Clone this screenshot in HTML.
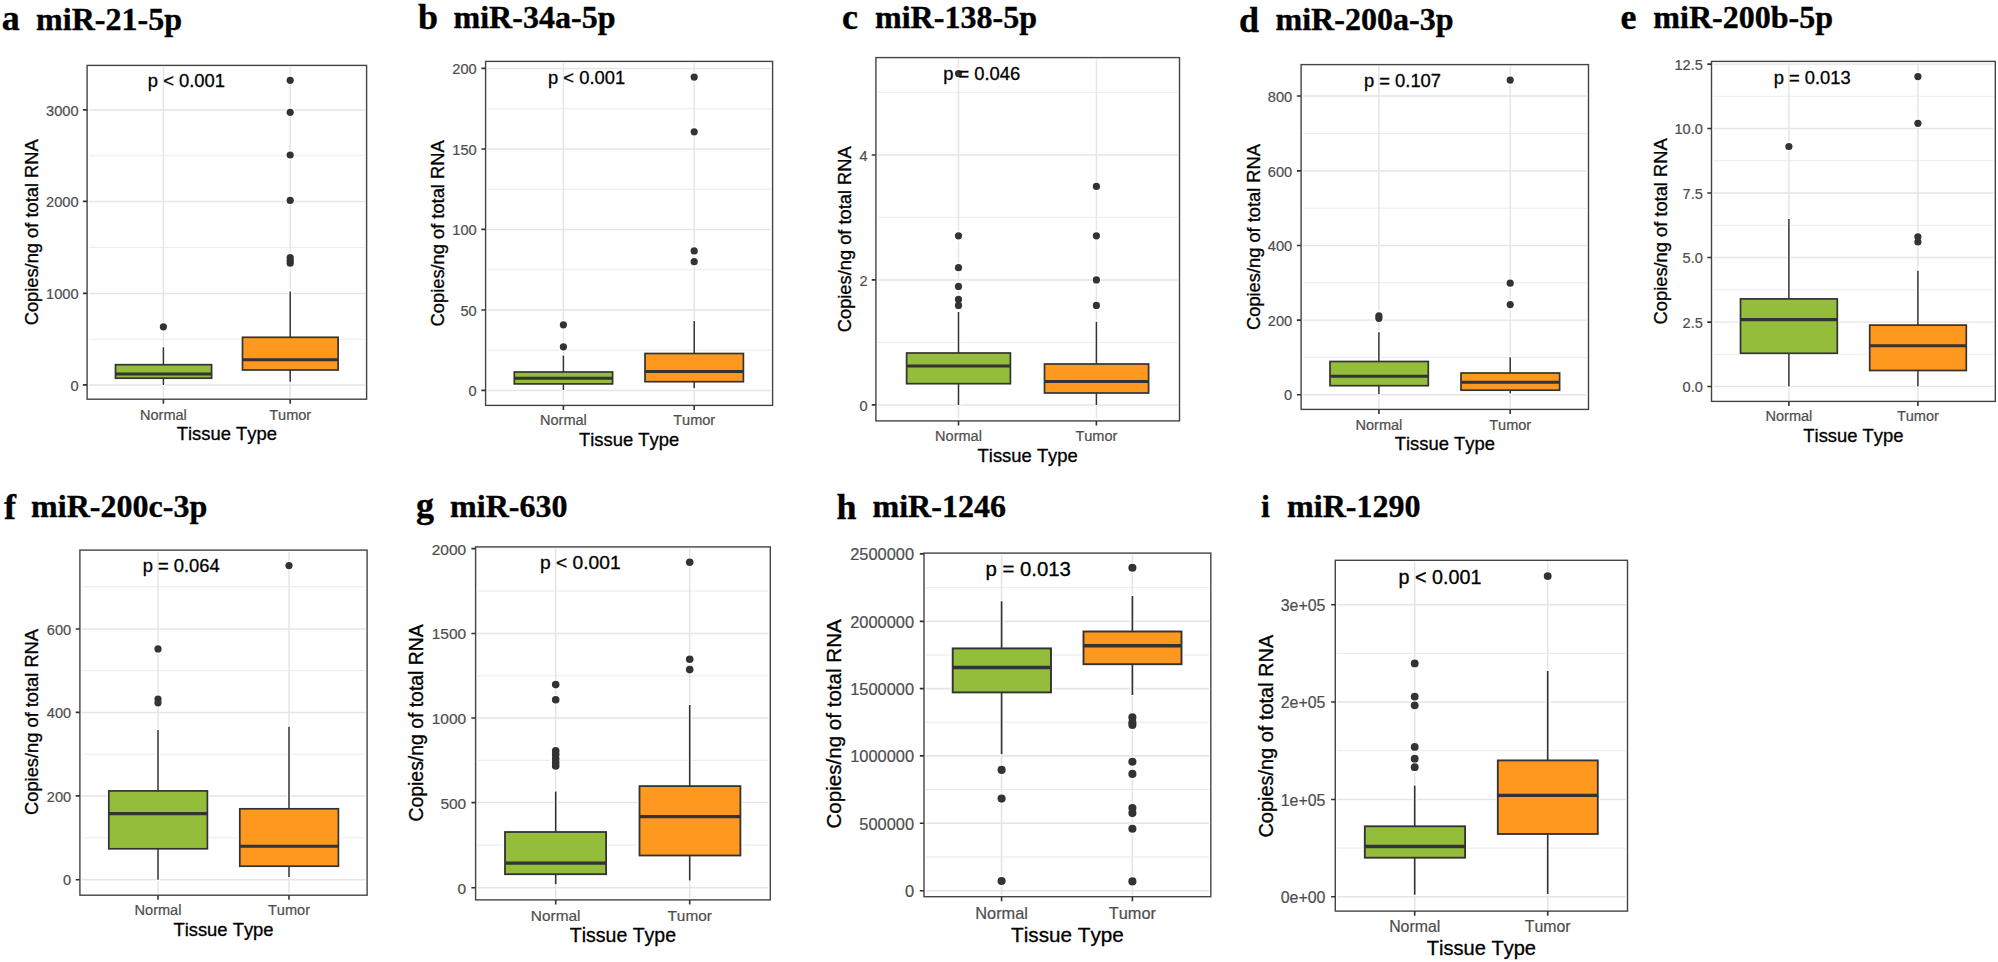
<!DOCTYPE html>
<html lang="en"><head><meta charset="utf-8"><title>miRNA copies per ng of total RNA in normal and tumor tissue</title>
<style>html,body{margin:0;padding:0;background:#fff}svg{display:block}text{font-kerning:none}.h{font-family:"Liberation Serif","Times New Roman",serif;font-weight:bold;fill:#000;stroke:#000;stroke-width:.35px}.s{font-family:"Liberation Sans",Arial,sans-serif;fill:#000;stroke:#000;stroke-width:.3px}.t{font-family:"Liberation Sans",Arial,sans-serif;fill:#4D4D4D;stroke:#4D4D4D;stroke-width:.2px}</style></head><body>
<svg width="1998" height="962" viewBox="0 0 1998 962">
<rect width="1998" height="962" fill="#fff"/>
<g>
<text class="h" x="1.7" y="30.3" font-size="36">a</text>
<text class="h" x="36.1" y="30" font-size="32.05">miR-21-5p</text>
<path d="M87.1 339.2H366.6M87.1 247.4H366.6M87.1 155.7H366.6" stroke="#E5E5E5" stroke-width="0.75" fill="none"/>
<path d="M87.1 384.9H366.6M87.1 293.4H366.6M87.1 201.4H366.6M87.1 109.9H366.6M163.4 65.4V399.2M290.2 65.4V399.2" stroke="#E5E5E5" stroke-width="1.45" fill="none"/>
<g fill="#fff"><circle cx="163.4" cy="326.8" r="4.8"/><circle cx="290.2" cy="80.3" r="4.8"/><circle cx="290.2" cy="112.3" r="4.8"/><circle cx="290.2" cy="155" r="4.8"/><circle cx="290.2" cy="200.4" r="4.8"/><circle cx="290.2" cy="257.6" r="4.8"/><circle cx="290.2" cy="260.4" r="4.8"/><circle cx="290.2" cy="263.2" r="4.8"/><rect x="113.5" y="362.7" width="100.1" height="17.5"/><rect x="161.4" y="346.1" width="4" height="40.1"/><rect x="240.5" y="335.3" width="99.6" height="36.7"/><rect x="288.2" y="290.4" width="4" height="92.5"/></g>
<path d="M163.4 347.3V364.7M163.4 378.2V385" stroke="#333333" stroke-width="1.5" fill="none"/>
<rect x="115.5" y="364.7" width="96.1" height="13.5" fill="#93BD3B" stroke="#333333" stroke-width="1.7"/>
<path d="M115.5 374H211.6" stroke="#333333" stroke-width="3.1" fill="none"/>
<path d="M290.2 291.6V337.3M290.2 370V381.7" stroke="#333333" stroke-width="1.5" fill="none"/>
<rect x="242.5" y="337.3" width="95.6" height="32.7" fill="#FF981F" stroke="#333333" stroke-width="1.7"/>
<path d="M242.5 359.7H338.1" stroke="#333333" stroke-width="3.1" fill="none"/>
<g fill="#333333"><circle cx="163.4" cy="326.8" r="3.6"/><circle cx="290.2" cy="80.3" r="3.6"/><circle cx="290.2" cy="112.3" r="3.6"/><circle cx="290.2" cy="155" r="3.6"/><circle cx="290.2" cy="200.4" r="3.6"/><circle cx="290.2" cy="257.6" r="3.6"/><circle cx="290.2" cy="260.4" r="3.6"/><circle cx="290.2" cy="263.2" r="3.6"/></g>
<rect x="87.1" y="65.4" width="279.5" height="333.8" fill="none" stroke="#fff" stroke-width="3.6"/>
<rect x="87.1" y="65.4" width="279.5" height="333.8" fill="none" stroke="#444" stroke-width="1.4"/>
<path d="M82.9 384.9H87.1M82.9 293.4H87.1M82.9 201.4H87.1M82.9 109.9H87.1M163.4 399.2V403.8M290.2 399.2V403.8" stroke="#333333" stroke-width="1.6" fill="none"/>
<text class="t" x="78.5" y="390.56" font-size="14.6" text-anchor="end">0</text>
<text class="t" x="78.5" y="299.06" font-size="14.6" text-anchor="end">1000</text>
<text class="t" x="78.5" y="207.06" font-size="14.6" text-anchor="end">2000</text>
<text class="t" x="78.5" y="115.56" font-size="14.6" text-anchor="end">3000</text>
<text class="t" x="163.4" y="419.6" font-size="14.55" text-anchor="middle">Normal</text>
<text class="t" x="290.2" y="419.6" font-size="14.55" text-anchor="middle">Tumor</text>
<text class="s" x="226.85" y="440" font-size="18.4" text-anchor="middle">Tissue Type</text>
<text class="s" transform="translate(37.7 232.3) rotate(-90)" font-size="18.3" text-anchor="middle">Copies/ng of total RNA</text>
<text class="s" x="186.4" y="86.6" font-size="18.37" text-anchor="middle">p &lt; 0.001</text>
</g>
<g>
<text class="h" x="417.9" y="29.4" font-size="36">b</text>
<text class="h" x="453.5" y="28.2" font-size="32.05">miR-34a-5p</text>
<path d="M485.6 350.2H772.6M485.6 269.8H772.6M485.6 189.2H772.6M485.6 108.8H772.6" stroke="#E5E5E5" stroke-width="0.75" fill="none"/>
<path d="M485.6 390.4H772.6M485.6 310H772.6M485.6 229.4H772.6M485.6 149H772.6M485.6 68.4H772.6M563.4 61.4V405.4M694.2 61.4V405.4" stroke="#E5E5E5" stroke-width="1.45" fill="none"/>
<g fill="#fff"><circle cx="563.4" cy="324.8" r="4.8"/><circle cx="563.4" cy="346.8" r="4.8"/><circle cx="694.2" cy="77.1" r="4.8"/><circle cx="694.2" cy="131.8" r="4.8"/><circle cx="694.2" cy="250.9" r="4.8"/><circle cx="694.2" cy="261.7" r="4.8"/><rect x="512.3" y="370" width="102.3" height="15.9"/><rect x="561.4" y="354.3" width="4" height="36.9"/><rect x="643" y="351.5" width="102.4" height="32.2"/><rect x="692.2" y="319.8" width="4" height="69.6"/></g>
<path d="M563.4 355.5V372M563.4 383.9V390" stroke="#333333" stroke-width="1.5" fill="none"/>
<rect x="514.3" y="372" width="98.3" height="11.9" fill="#93BD3B" stroke="#333333" stroke-width="1.7"/>
<path d="M514.3 378.2H612.6" stroke="#333333" stroke-width="3.1" fill="none"/>
<path d="M694.2 321V353.5M694.2 381.7V388.2" stroke="#333333" stroke-width="1.5" fill="none"/>
<rect x="645" y="353.5" width="98.4" height="28.2" fill="#FF981F" stroke="#333333" stroke-width="1.7"/>
<path d="M645 371.5H743.4" stroke="#333333" stroke-width="3.1" fill="none"/>
<g fill="#333333"><circle cx="563.4" cy="324.8" r="3.6"/><circle cx="563.4" cy="346.8" r="3.6"/><circle cx="694.2" cy="77.1" r="3.6"/><circle cx="694.2" cy="131.8" r="3.6"/><circle cx="694.2" cy="250.9" r="3.6"/><circle cx="694.2" cy="261.7" r="3.6"/></g>
<rect x="485.6" y="61.4" width="287" height="344" fill="none" stroke="#fff" stroke-width="3.6"/>
<rect x="485.6" y="61.4" width="287" height="344" fill="none" stroke="#444" stroke-width="1.4"/>
<path d="M481.4 390.4H485.6M481.4 310H485.6M481.4 229.4H485.6M481.4 149H485.6M481.4 68.4H485.6M563.4 405.4V410M694.2 405.4V410" stroke="#333333" stroke-width="1.6" fill="none"/>
<text class="t" x="476.7" y="396.06" font-size="14.6" text-anchor="end">0</text>
<text class="t" x="476.7" y="315.66" font-size="14.6" text-anchor="end">50</text>
<text class="t" x="476.7" y="235.06" font-size="14.6" text-anchor="end">100</text>
<text class="t" x="476.7" y="154.66" font-size="14.6" text-anchor="end">150</text>
<text class="t" x="476.7" y="74.06" font-size="14.6" text-anchor="end">200</text>
<text class="t" x="563.4" y="425.1" font-size="14.55" text-anchor="middle">Normal</text>
<text class="t" x="694.2" y="425.1" font-size="14.55" text-anchor="middle">Tumor</text>
<text class="s" x="629.1" y="445.8" font-size="18.4" text-anchor="middle">Tissue Type</text>
<text class="s" transform="translate(444 233.4) rotate(-90)" font-size="18.3" text-anchor="middle">Copies/ng of total RNA</text>
<text class="s" x="586.6" y="84" font-size="18.37" text-anchor="middle">p &lt; 0.001</text>
</g>
<g>
<text class="h" x="842.1" y="29" font-size="36">c</text>
<text class="h" x="875" y="28" font-size="32.05">miR-138-5p</text>
<path d="M875.9 342.5H1179.5M875.9 217.4H1179.5M875.9 92.4H1179.5" stroke="#E5E5E5" stroke-width="0.75" fill="none"/>
<path d="M875.9 404.9H1179.5M875.9 279.9H1179.5M875.9 155H1179.5M958.5 57.6V420.9M1096.4 57.6V420.9" stroke="#E5E5E5" stroke-width="1.45" fill="none"/>
<g fill="#fff"><circle cx="958.5" cy="73.6" r="4.8"/><circle cx="958.5" cy="235.8" r="4.8"/><circle cx="958.5" cy="267.7" r="4.8"/><circle cx="958.5" cy="286.4" r="4.8"/><circle cx="958.5" cy="299.4" r="4.8"/><circle cx="958.5" cy="305.4" r="4.8"/><circle cx="1096.4" cy="186.4" r="4.8"/><circle cx="1096.4" cy="235.8" r="4.8"/><circle cx="1096.4" cy="279.9" r="4.8"/><circle cx="1096.4" cy="305.4" r="4.8"/><rect x="904.6" y="351" width="107.8" height="34.7"/><rect x="956.5" y="310.7" width="4" height="95.4"/><rect x="1042.5" y="362" width="108.1" height="33"/><rect x="1094.4" y="320.6" width="4" height="85.5"/></g>
<path d="M958.5 311.9V353M958.5 383.7V404.9" stroke="#333333" stroke-width="1.5" fill="none"/>
<rect x="906.6" y="353" width="103.8" height="30.7" fill="#93BD3B" stroke="#333333" stroke-width="1.7"/>
<path d="M906.6 366H1010.4" stroke="#333333" stroke-width="3.1" fill="none"/>
<path d="M1096.4 321.8V364M1096.4 393V404.9" stroke="#333333" stroke-width="1.5" fill="none"/>
<rect x="1044.5" y="364" width="104.1" height="29" fill="#FF981F" stroke="#333333" stroke-width="1.7"/>
<path d="M1044.5 381.5H1148.6" stroke="#333333" stroke-width="3.1" fill="none"/>
<g fill="#333333"><circle cx="958.5" cy="73.6" r="3.6"/><circle cx="958.5" cy="235.8" r="3.6"/><circle cx="958.5" cy="267.7" r="3.6"/><circle cx="958.5" cy="286.4" r="3.6"/><circle cx="958.5" cy="299.4" r="3.6"/><circle cx="958.5" cy="305.4" r="3.6"/><circle cx="1096.4" cy="186.4" r="3.6"/><circle cx="1096.4" cy="235.8" r="3.6"/><circle cx="1096.4" cy="279.9" r="3.6"/><circle cx="1096.4" cy="305.4" r="3.6"/></g>
<rect x="875.9" y="57.6" width="303.6" height="363.3" fill="none" stroke="#fff" stroke-width="3.6"/>
<rect x="875.9" y="57.6" width="303.6" height="363.3" fill="none" stroke="#444" stroke-width="1.4"/>
<path d="M871.7 404.9H875.9M871.7 279.9H875.9M871.7 155H875.9M958.5 420.9V425.5M1096.4 420.9V425.5" stroke="#333333" stroke-width="1.6" fill="none"/>
<text class="t" x="867.5" y="410.56" font-size="14.6" text-anchor="end">0</text>
<text class="t" x="867.5" y="285.56" font-size="14.6" text-anchor="end">2</text>
<text class="t" x="867.5" y="160.66" font-size="14.6" text-anchor="end">4</text>
<text class="t" x="958.5" y="441.1" font-size="14.55" text-anchor="middle">Normal</text>
<text class="t" x="1096.4" y="441.1" font-size="14.55" text-anchor="middle">Tumor</text>
<text class="s" x="1027.7" y="461.6" font-size="18.4" text-anchor="middle">Tissue Type</text>
<text class="s" transform="translate(850.7 239.25) rotate(-90)" font-size="18.3" text-anchor="middle">Copies/ng of total RNA</text>
<text class="s" x="981.7" y="79.9" font-size="18.37" text-anchor="middle">p = 0.046</text>
</g>
<g>
<text class="h" x="1239.1" y="31.9" font-size="36">d</text>
<text class="h" x="1275.5" y="30.4" font-size="32.05">miR-200a-3p</text>
<path d="M1301.1 357.4H1588.5M1301.1 282.8H1588.5M1301.1 208.2H1588.5M1301.1 133.5H1588.5" stroke="#E5E5E5" stroke-width="0.75" fill="none"/>
<path d="M1301.1 394.7H1588.5M1301.1 320.1H1588.5M1301.1 245.5H1588.5M1301.1 170.9H1588.5M1301.1 96H1588.5M1378.9 64.6V409.4M1510.2 64.6V409.4" stroke="#E5E5E5" stroke-width="1.45" fill="none"/>
<g fill="#fff"><circle cx="1378.9" cy="315.8" r="4.8"/><circle cx="1378.9" cy="318.3" r="4.8"/><circle cx="1510.2" cy="80.1" r="4.8"/><circle cx="1510.2" cy="283.2" r="4.8"/><circle cx="1510.2" cy="304.6" r="4.8"/><rect x="1328" y="359.5" width="102.3" height="28.2"/><rect x="1376.9" y="331.1" width="4" height="64.3"/><rect x="1459" y="371" width="102.6" height="21.2"/><rect x="1508.2" y="356.1" width="4" height="38.5"/></g>
<path d="M1378.9 332.3V361.5M1378.9 385.7V394.2" stroke="#333333" stroke-width="1.5" fill="none"/>
<rect x="1330" y="361.5" width="98.3" height="24.2" fill="#93BD3B" stroke="#333333" stroke-width="1.7"/>
<path d="M1330 376.2H1428.3" stroke="#333333" stroke-width="3.1" fill="none"/>
<path d="M1510.2 357.3V373M1510.2 390.2V393.4" stroke="#333333" stroke-width="1.5" fill="none"/>
<rect x="1461" y="373" width="98.6" height="17.2" fill="#FF981F" stroke="#333333" stroke-width="1.7"/>
<path d="M1461 382.2H1559.6" stroke="#333333" stroke-width="3.1" fill="none"/>
<g fill="#333333"><circle cx="1378.9" cy="315.8" r="3.6"/><circle cx="1378.9" cy="318.3" r="3.6"/><circle cx="1510.2" cy="80.1" r="3.6"/><circle cx="1510.2" cy="283.2" r="3.6"/><circle cx="1510.2" cy="304.6" r="3.6"/></g>
<rect x="1301.1" y="64.6" width="287.4" height="344.8" fill="none" stroke="#fff" stroke-width="3.6"/>
<rect x="1301.1" y="64.6" width="287.4" height="344.8" fill="none" stroke="#444" stroke-width="1.4"/>
<path d="M1296.9 394.7H1301.1M1296.9 320.1H1301.1M1296.9 245.5H1301.1M1296.9 170.9H1301.1M1296.9 96H1301.1M1378.9 409.4V414M1510.2 409.4V414" stroke="#333333" stroke-width="1.6" fill="none"/>
<text class="t" x="1292.2" y="400.36" font-size="14.6" text-anchor="end">0</text>
<text class="t" x="1292.2" y="325.76" font-size="14.6" text-anchor="end">200</text>
<text class="t" x="1292.2" y="251.16" font-size="14.6" text-anchor="end">400</text>
<text class="t" x="1292.2" y="176.56" font-size="14.6" text-anchor="end">600</text>
<text class="t" x="1292.2" y="101.66" font-size="14.6" text-anchor="end">800</text>
<text class="t" x="1378.9" y="429.6" font-size="14.55" text-anchor="middle">Normal</text>
<text class="t" x="1510.2" y="429.6" font-size="14.55" text-anchor="middle">Tumor</text>
<text class="s" x="1444.8" y="450.3" font-size="18.4" text-anchor="middle">Tissue Type</text>
<text class="s" transform="translate(1259.5 237) rotate(-90)" font-size="18.3" text-anchor="middle">Copies/ng of total RNA</text>
<text class="s" x="1402.5" y="86.6" font-size="18.37" text-anchor="middle">p = 0.107</text>
</g>
<g>
<text class="h" x="1620.4" y="28.9" font-size="36">e</text>
<text class="h" x="1653.3" y="28.4" font-size="32.05">miR-200b-5p</text>
<path d="M1711.5 354.3H1995.3M1711.5 289.8H1995.3M1711.5 225.3H1995.3M1711.5 160.7H1995.3M1711.5 96.3H1995.3" stroke="#E5E5E5" stroke-width="0.75" fill="none"/>
<path d="M1711.5 386.5H1995.3M1711.5 322.1H1995.3M1711.5 257.5H1995.3M1711.5 193H1995.3M1711.5 128.5H1995.3M1711.5 64.1H1995.3M1788.9 61.4V401.4M1917.9 61.4V401.4" stroke="#E5E5E5" stroke-width="1.45" fill="none"/>
<g fill="#fff"><circle cx="1788.9" cy="146.5" r="4.8"/><circle cx="1917.9" cy="76.6" r="4.8"/><circle cx="1917.9" cy="123.3" r="4.8"/><circle cx="1917.9" cy="236.8" r="4.8"/><circle cx="1917.9" cy="242" r="4.8"/><rect x="1738.5" y="296.9" width="100.8" height="58.4"/><rect x="1786.9" y="217.9" width="4" height="169.8"/><rect x="1867.7" y="323.1" width="100.6" height="49.4"/><rect x="1915.9" y="269.5" width="4" height="118.2"/></g>
<path d="M1788.9 219.1V298.9M1788.9 353.3V386.5" stroke="#333333" stroke-width="1.5" fill="none"/>
<rect x="1740.5" y="298.9" width="96.8" height="54.4" fill="#93BD3B" stroke="#333333" stroke-width="1.7"/>
<path d="M1740.5 319.6H1837.3" stroke="#333333" stroke-width="3.1" fill="none"/>
<path d="M1917.9 270.7V325.1M1917.9 370.5V386.5" stroke="#333333" stroke-width="1.5" fill="none"/>
<rect x="1869.7" y="325.1" width="96.6" height="45.4" fill="#FF981F" stroke="#333333" stroke-width="1.7"/>
<path d="M1869.7 345.8H1966.3" stroke="#333333" stroke-width="3.1" fill="none"/>
<g fill="#333333"><circle cx="1788.9" cy="146.5" r="3.6"/><circle cx="1917.9" cy="76.6" r="3.6"/><circle cx="1917.9" cy="123.3" r="3.6"/><circle cx="1917.9" cy="236.8" r="3.6"/><circle cx="1917.9" cy="242" r="3.6"/></g>
<rect x="1711.5" y="61.4" width="283.8" height="340" fill="none" stroke="#fff" stroke-width="3.6"/>
<rect x="1711.5" y="61.4" width="283.8" height="340" fill="none" stroke="#444" stroke-width="1.4"/>
<path d="M1707.3 386.5H1711.5M1707.3 322.1H1711.5M1707.3 257.5H1711.5M1707.3 193H1711.5M1707.3 128.5H1711.5M1707.3 64.1H1711.5M1788.9 401.4V406M1917.9 401.4V406" stroke="#333333" stroke-width="1.6" fill="none"/>
<text class="t" x="1702.9" y="392.16" font-size="14.6" text-anchor="end">0.0</text>
<text class="t" x="1702.9" y="327.76" font-size="14.6" text-anchor="end">2.5</text>
<text class="t" x="1702.9" y="263.16" font-size="14.6" text-anchor="end">5.0</text>
<text class="t" x="1702.9" y="198.66" font-size="14.6" text-anchor="end">7.5</text>
<text class="t" x="1702.9" y="134.16" font-size="14.6" text-anchor="end">10.0</text>
<text class="t" x="1702.9" y="69.76" font-size="14.6" text-anchor="end">12.5</text>
<text class="t" x="1788.9" y="421.4" font-size="14.55" text-anchor="middle">Normal</text>
<text class="t" x="1917.9" y="421.4" font-size="14.55" text-anchor="middle">Tumor</text>
<text class="s" x="1853.4" y="442.1" font-size="18.4" text-anchor="middle">Tissue Type</text>
<text class="s" transform="translate(1666.5 231.4) rotate(-90)" font-size="18.3" text-anchor="middle">Copies/ng of total RNA</text>
<text class="s" x="1812.2" y="83.6" font-size="18.37" text-anchor="middle">p = 0.013</text>
</g>
<g>
<text class="h" x="3.9" y="519.1" font-size="36">f</text>
<text class="h" x="31.1" y="517.4" font-size="32.05">miR-200c-3p</text>
<path d="M79.9 837.8H367.1M79.9 754.2H367.1M79.9 670.6H367.1M79.9 586.8H367.1" stroke="#E5E5E5" stroke-width="0.75" fill="none"/>
<path d="M79.9 879.7H367.1M79.9 795.9H367.1M79.9 712.4H367.1M79.9 629H367.1M158 550.1V895.2M289 550.1V895.2" stroke="#E5E5E5" stroke-width="1.45" fill="none"/>
<g fill="#fff"><circle cx="158" cy="648.9" r="4.8"/><circle cx="158" cy="699.1" r="4.8"/><circle cx="158" cy="702.8" r="4.8"/><circle cx="289" cy="565.6" r="4.8"/><rect x="106.8" y="788.9" width="102.6" height="61.9"/><rect x="156" y="728.8" width="4" height="152.1"/><rect x="237.8" y="806.8" width="102.6" height="61.4"/><rect x="287" y="725.5" width="4" height="152.7"/></g>
<path d="M158 730V790.9M158 848.8V879.7" stroke="#333333" stroke-width="1.5" fill="none"/>
<rect x="108.8" y="790.9" width="98.6" height="57.9" fill="#93BD3B" stroke="#333333" stroke-width="1.7"/>
<path d="M108.8 813.6H207.4" stroke="#333333" stroke-width="3.1" fill="none"/>
<path d="M289 726.7V808.8M289 866.2V877" stroke="#333333" stroke-width="1.5" fill="none"/>
<rect x="239.8" y="808.8" width="98.6" height="57.4" fill="#FF981F" stroke="#333333" stroke-width="1.7"/>
<path d="M239.8 846.3H338.4" stroke="#333333" stroke-width="3.1" fill="none"/>
<g fill="#333333"><circle cx="158" cy="648.9" r="3.6"/><circle cx="158" cy="699.1" r="3.6"/><circle cx="158" cy="702.8" r="3.6"/><circle cx="289" cy="565.6" r="3.6"/></g>
<rect x="79.9" y="550.1" width="287.2" height="345.1" fill="none" stroke="#fff" stroke-width="3.6"/>
<rect x="79.9" y="550.1" width="287.2" height="345.1" fill="none" stroke="#444" stroke-width="1.4"/>
<path d="M75.7 879.7H79.9M75.7 795.9H79.9M75.7 712.4H79.9M75.7 629H79.9M158 895.2V899.8M289 895.2V899.8" stroke="#333333" stroke-width="1.6" fill="none"/>
<text class="t" x="71.2" y="885.36" font-size="14.6" text-anchor="end">0</text>
<text class="t" x="71.2" y="801.56" font-size="14.6" text-anchor="end">200</text>
<text class="t" x="71.2" y="718.06" font-size="14.6" text-anchor="end">400</text>
<text class="t" x="71.2" y="634.66" font-size="14.6" text-anchor="end">600</text>
<text class="t" x="158" y="914.9" font-size="14.55" text-anchor="middle">Normal</text>
<text class="t" x="289" y="914.9" font-size="14.55" text-anchor="middle">Tumor</text>
<text class="s" x="223.5" y="935.6" font-size="18.4" text-anchor="middle">Tissue Type</text>
<text class="s" transform="translate(38.3 721.95) rotate(-90)" font-size="18.3" text-anchor="middle">Copies/ng of total RNA</text>
<text class="s" x="181.2" y="572.3" font-size="18.37" text-anchor="middle">p = 0.064</text>
</g>
<g>
<text class="h" x="416.1" y="517.4" font-size="36">g</text>
<text class="h" x="450.1" y="516.9" font-size="32.05">miR-630</text>
<path d="M475.6 845.1H770.3M475.6 760.3H770.3M475.6 675.8H770.3M475.6 591H770.3" stroke="#E5E5E5" stroke-width="0.8" fill="none"/>
<path d="M475.6 887.7H770.3M475.6 802.6H770.3M475.6 718H770.3M475.6 633.5H770.3M475.6 548.6H770.3M555.7 546.9V899.9M689.7 546.9V899.9" stroke="#E5E5E5" stroke-width="1.54" fill="none"/>
<g fill="#fff"><circle cx="555.7" cy="684.6" r="5.02"/><circle cx="555.7" cy="699.8" r="5.02"/><circle cx="555.7" cy="750.7" r="5.02"/><circle cx="555.7" cy="754.4" r="5.02"/><circle cx="555.7" cy="758.7" r="5.02"/><circle cx="555.7" cy="762.4" r="5.02"/><circle cx="555.7" cy="765.9" r="5.02"/><circle cx="689.7" cy="562.3" r="5.02"/><circle cx="689.7" cy="659.2" r="5.02"/><circle cx="689.7" cy="669.6" r="5.02"/><rect x="503" y="830" width="105.1" height="46.2"/><rect x="553.7" y="790.2" width="4" height="95.2"/><rect x="637.5" y="784.1" width="104.9" height="73.4"/><rect x="687.7" y="703.9" width="4" height="177.7"/></g>
<path d="M555.7 791.4V832M555.7 874.2V884.2" stroke="#333333" stroke-width="1.59" fill="none"/>
<rect x="505" y="832" width="101.1" height="42.2" fill="#93BD3B" stroke="#333333" stroke-width="1.8"/>
<path d="M505 863.2H606.1" stroke="#333333" stroke-width="3.29" fill="none"/>
<path d="M689.7 705.1V786.1M689.7 855.5V880.4" stroke="#333333" stroke-width="1.59" fill="none"/>
<rect x="639.5" y="786.1" width="100.9" height="69.4" fill="#FF981F" stroke="#333333" stroke-width="1.8"/>
<path d="M639.5 816.6H740.4" stroke="#333333" stroke-width="3.29" fill="none"/>
<g fill="#333333"><circle cx="555.7" cy="684.6" r="3.82"/><circle cx="555.7" cy="699.8" r="3.82"/><circle cx="555.7" cy="750.7" r="3.82"/><circle cx="555.7" cy="754.4" r="3.82"/><circle cx="555.7" cy="758.7" r="3.82"/><circle cx="555.7" cy="762.4" r="3.82"/><circle cx="555.7" cy="765.9" r="3.82"/><circle cx="689.7" cy="562.3" r="3.82"/><circle cx="689.7" cy="659.2" r="3.82"/><circle cx="689.7" cy="669.6" r="3.82"/></g>
<rect x="475.6" y="546.9" width="294.7" height="353" fill="none" stroke="#fff" stroke-width="3.6"/>
<rect x="475.6" y="546.9" width="294.7" height="353" fill="none" stroke="#444" stroke-width="1.4"/>
<path d="M471.4 887.7H475.6M471.4 802.6H475.6M471.4 718H475.6M471.4 633.5H475.6M471.4 548.6H475.6M555.7 899.9V904.5M689.7 899.9V904.5" stroke="#333333" stroke-width="1.6" fill="none"/>
<text class="t" x="466.2" y="893.67" font-size="15.48" text-anchor="end">0</text>
<text class="t" x="466.2" y="808.57" font-size="15.48" text-anchor="end">500</text>
<text class="t" x="466.2" y="723.97" font-size="15.48" text-anchor="end">1000</text>
<text class="t" x="466.2" y="639.47" font-size="15.48" text-anchor="end">1500</text>
<text class="t" x="466.2" y="554.57" font-size="15.48" text-anchor="end">2000</text>
<text class="t" x="555.7" y="920.9" font-size="15.42" text-anchor="middle">Normal</text>
<text class="t" x="689.7" y="920.9" font-size="15.42" text-anchor="middle">Tumor</text>
<text class="s" x="622.95" y="942.1" font-size="19.5" text-anchor="middle">Tissue Type</text>
<text class="s" transform="translate(422.7 722.9) rotate(-90)" font-size="19.4" text-anchor="middle">Copies/ng of total RNA</text>
<text class="s" x="580.3" y="569.1" font-size="19.19" text-anchor="middle">p &lt; 0.001</text>
</g>
<g>
<text class="h" x="836.6" y="519.2" font-size="36">h</text>
<text class="h" x="872.5" y="517.4" font-size="32.05">miR-1246</text>
<path d="M924 857H1210.8M924 789.5H1210.8M924 722.2H1210.8M924 655H1210.8M924 587.7H1210.8" stroke="#E5E5E5" stroke-width="0.84" fill="none"/>
<path d="M924 890.7H1210.8M924 823.2H1210.8M924 755.9H1210.8M924 688.6H1210.8M924 621.4H1210.8M924 553.9H1210.8M1001.6 553.1V896.7M1132.4 553.1V896.7" stroke="#E5E5E5" stroke-width="1.63" fill="none"/>
<g fill="#fff"><circle cx="1001.6" cy="769.9" r="5.25"/><circle cx="1001.6" cy="798.6" r="5.25"/><circle cx="1001.6" cy="881" r="5.25"/><circle cx="1132.4" cy="567.8" r="5.25"/><circle cx="1132.4" cy="717.4" r="5.25"/><circle cx="1132.4" cy="722.5" r="5.25"/><circle cx="1132.4" cy="725" r="5.25"/><circle cx="1132.4" cy="761.7" r="5.25"/><circle cx="1132.4" cy="773.9" r="5.25"/><circle cx="1132.4" cy="808.1" r="5.25"/><circle cx="1132.4" cy="813.1" r="5.25"/><circle cx="1132.4" cy="828.8" r="5.25"/><circle cx="1132.4" cy="881.4" r="5.25"/><rect x="950.7" y="646.4" width="102.3" height="48"/><rect x="999.6" y="600.1" width="4" height="155.3"/><rect x="1081.5" y="629.5" width="102" height="36.7"/><rect x="1130.4" y="594.8" width="4" height="101.5"/></g>
<path d="M1001.6 601.3V648.4M1001.6 692.4V754.2" stroke="#333333" stroke-width="1.69" fill="none"/>
<rect x="952.7" y="648.4" width="98.3" height="44" fill="#93BD3B" stroke="#333333" stroke-width="1.91"/>
<path d="M952.7 667.4H1051" stroke="#333333" stroke-width="3.49" fill="none"/>
<path d="M1132.4 596V631.5M1132.4 664.2V695.1" stroke="#333333" stroke-width="1.69" fill="none"/>
<rect x="1083.5" y="631.5" width="98" height="32.7" fill="#FF981F" stroke="#333333" stroke-width="1.91"/>
<path d="M1083.5 645.7H1181.5" stroke="#333333" stroke-width="3.49" fill="none"/>
<g fill="#333333"><circle cx="1001.6" cy="769.9" r="4.05"/><circle cx="1001.6" cy="798.6" r="4.05"/><circle cx="1001.6" cy="881" r="4.05"/><circle cx="1132.4" cy="567.8" r="4.05"/><circle cx="1132.4" cy="717.4" r="4.05"/><circle cx="1132.4" cy="722.5" r="4.05"/><circle cx="1132.4" cy="725" r="4.05"/><circle cx="1132.4" cy="761.7" r="4.05"/><circle cx="1132.4" cy="773.9" r="4.05"/><circle cx="1132.4" cy="808.1" r="4.05"/><circle cx="1132.4" cy="813.1" r="4.05"/><circle cx="1132.4" cy="828.8" r="4.05"/><circle cx="1132.4" cy="881.4" r="4.05"/></g>
<rect x="924" y="553.1" width="286.8" height="343.6" fill="none" stroke="#fff" stroke-width="3.6"/>
<rect x="924" y="553.1" width="286.8" height="343.6" fill="none" stroke="#444" stroke-width="1.4"/>
<path d="M919.8 890.7H924M919.8 823.2H924M919.8 755.9H924M919.8 688.6H924M919.8 621.4H924M919.8 553.9H924M1001.6 896.7V901.3M1132.4 896.7V901.3" stroke="#333333" stroke-width="1.6" fill="none"/>
<text class="t" x="914.1" y="897.01" font-size="16.43" text-anchor="end">0</text>
<text class="t" x="914.1" y="829.51" font-size="16.43" text-anchor="end">500000</text>
<text class="t" x="914.1" y="762.21" font-size="16.43" text-anchor="end">1000000</text>
<text class="t" x="914.1" y="694.91" font-size="16.43" text-anchor="end">1500000</text>
<text class="t" x="914.1" y="627.71" font-size="16.43" text-anchor="end">2000000</text>
<text class="t" x="914.1" y="560.21" font-size="16.43" text-anchor="end">2500000</text>
<text class="t" x="1001.6" y="919.2" font-size="16.37" text-anchor="middle">Normal</text>
<text class="t" x="1132.4" y="919.2" font-size="16.37" text-anchor="middle">Tumor</text>
<text class="s" x="1067.4" y="942.1" font-size="20.7" text-anchor="middle">Tissue Type</text>
<text class="s" transform="translate(840.7 723.9) rotate(-90)" font-size="20.59" text-anchor="middle">Copies/ng of total RNA</text>
<text class="s" x="1028.2" y="575.6" font-size="20.36" text-anchor="middle">p = 0.013</text>
</g>
<g>
<text class="h" x="1260.9" y="516.9" font-size="32.05">i</text>
<text class="h" x="1287.1" y="516.9" font-size="32.05">miR-1290</text>
<path d="M1335.3 848.1H1627.5M1335.3 750.8H1627.5M1335.3 653.4H1627.5" stroke="#E5E5E5" stroke-width="0.82" fill="none"/>
<path d="M1335.3 896.7H1627.5M1335.3 799.5H1627.5M1335.3 702H1627.5M1335.3 604.8H1627.5M1414.7 560.3V911.1M1547.7 560.3V911.1" stroke="#E5E5E5" stroke-width="1.58" fill="none"/>
<g fill="#fff"><circle cx="1414.7" cy="663.4" r="5.12"/><circle cx="1414.7" cy="696.6" r="5.12"/><circle cx="1414.7" cy="705.3" r="5.12"/><circle cx="1414.7" cy="746.9" r="5.12"/><circle cx="1414.7" cy="758.7" r="5.12"/><circle cx="1414.7" cy="767.2" r="5.12"/><circle cx="1547.7" cy="576.1" r="5.12"/><rect x="1362.8" y="824.3" width="104.3" height="35.4"/><rect x="1412.7" y="784.2" width="4" height="111.7"/><rect x="1495.8" y="758.4" width="104" height="77.6"/><rect x="1545.7" y="669.7" width="4" height="225.4"/></g>
<path d="M1414.7 785.4V826.3M1414.7 857.7V894.7" stroke="#333333" stroke-width="1.64" fill="none"/>
<rect x="1364.8" y="826.3" width="100.3" height="31.4" fill="#93BD3B" stroke="#333333" stroke-width="1.85"/>
<path d="M1364.8 846.5H1465.1" stroke="#333333" stroke-width="3.38" fill="none"/>
<path d="M1547.7 670.9V760.4M1547.7 834V893.9" stroke="#333333" stroke-width="1.64" fill="none"/>
<rect x="1497.8" y="760.4" width="100" height="73.6" fill="#FF981F" stroke="#333333" stroke-width="1.85"/>
<path d="M1497.8 795.4H1597.8" stroke="#333333" stroke-width="3.38" fill="none"/>
<g fill="#333333"><circle cx="1414.7" cy="663.4" r="3.92"/><circle cx="1414.7" cy="696.6" r="3.92"/><circle cx="1414.7" cy="705.3" r="3.92"/><circle cx="1414.7" cy="746.9" r="3.92"/><circle cx="1414.7" cy="758.7" r="3.92"/><circle cx="1414.7" cy="767.2" r="3.92"/><circle cx="1547.7" cy="576.1" r="3.92"/></g>
<rect x="1335.3" y="560.3" width="292.2" height="350.8" fill="none" stroke="#fff" stroke-width="3.6"/>
<rect x="1335.3" y="560.3" width="292.2" height="350.8" fill="none" stroke="#444" stroke-width="1.4"/>
<path d="M1331.1 896.7H1335.3M1331.1 799.5H1335.3M1331.1 702H1335.3M1331.1 604.8H1335.3M1414.7 911.1V915.7M1547.7 911.1V915.7" stroke="#333333" stroke-width="1.6" fill="none"/>
<text class="t" x="1325.4" y="902.83" font-size="15.91" text-anchor="end">0e+00</text>
<text class="t" x="1325.4" y="805.63" font-size="15.91" text-anchor="end">1e+05</text>
<text class="t" x="1325.4" y="708.13" font-size="15.91" text-anchor="end">2e+05</text>
<text class="t" x="1325.4" y="610.93" font-size="15.91" text-anchor="end">3e+05</text>
<text class="t" x="1414.7" y="931.6" font-size="15.86" text-anchor="middle">Normal</text>
<text class="t" x="1547.7" y="931.6" font-size="15.86" text-anchor="middle">Tumor</text>
<text class="s" x="1481.4" y="954.6" font-size="20.06" text-anchor="middle">Tissue Type</text>
<text class="s" transform="translate(1272.5 736.2) rotate(-90)" font-size="19.95" text-anchor="middle">Copies/ng of total RNA</text>
<text class="s" x="1440" y="583.6" font-size="19.73" text-anchor="middle">p &lt; 0.001</text>
</g>
</svg></body></html>
